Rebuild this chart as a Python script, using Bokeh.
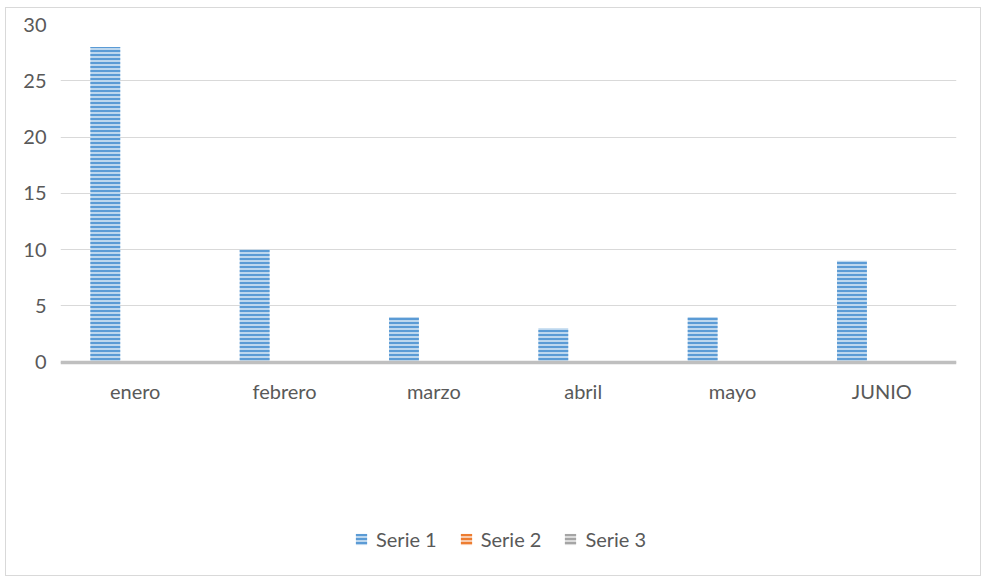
from bokeh.plotting import figure
from bokeh.models import ColumnDataSource, Range1d, Legend, LegendItem
from bokeh.transform import dodge
from bokeh.embed import file_html
from bokeh.resources import INLINE

months = ["enero", "febrero", "marzo", "abril", "mayo", "JUNIO"]
serie1 = [28, 10, 4, 3, 4, 9]
serie2 = [0, 0, 0, 0, 0, 0]
serie3 = [0, 0, 0, 0, 0, 0]
series_names = ["Serie 1", "Serie 2", "Serie 3"]
y_ticks = [0, 5, 10, 15, 20, 25, 30]

source = ColumnDataSource(dict(month=months, s1=serie1, s2=serie2, s3=serie3))

FONT = "Lato"
TXT = "#595959"

# layout (pixels): frame top 16px below figure top, 0..30 spans 337px,
# frame continues down to leave room for labels and legend inside it
FIG_W, FIG_H = 976, 569
TOP, BOTTOM = 16, 6
frame_h = FIG_H - TOP - BOTTOM
px_per_unit = 337.5 / 30.0
y_end = 30
y_start = y_end - frame_h / px_per_unit

p = figure(x_range=months, y_range=Range1d(y_start, y_end), width=FIG_W, height=FIG_H,
           output_backend="svg", toolbar_location=None,
           min_border_left=54, min_border_right=26, min_border_top=TOP, min_border_bottom=BOTTOM)
p.styles = {"border": "1px solid #d9d9d9", "margin-left": "5px", "margin-top": "7px"}

styles = [("s1", "#bdd7ee", "#5b9bd5", -0.2),
          ("s2", "#f8cbad", "#ed7d31", 0.0),
          ("s3", "#dbdbdb", "#a5a5a5", 0.2)]
renderers = []
for col, fill, hatch, off in styles:
    r = p.vbar(x=dodge("month", off, range=p.x_range), top=col, bottom=0, width=0.2, source=source,
               fill_color=fill, line_color=None,
               hatch_pattern="horizontal_line", hatch_color=hatch, hatch_scale=4, hatch_weight=2)
    renderers.append(r)

p.outline_line_color = None
p.xgrid.grid_line_color = None
p.ygrid.grid_line_color = "#d9d9d9"
p.ygrid.grid_line_width = 1
p.yaxis.ticker = y_ticks
p.yaxis.axis_line_color = None
p.yaxis.major_tick_line_color = None
p.yaxis.minor_tick_line_color = None
p.yaxis.major_label_standoff = 8
p.xaxis.fixed_location = 0
p.xaxis.axis_line_color = "#bfbfbf"
p.xaxis.axis_line_width = 3.5
p.xaxis.major_tick_line_color = None
p.xaxis.minor_tick_line_color = None
p.xaxis.major_label_standoff = 11
for ax in (p.xaxis, p.yaxis):
    ax.major_label_text_font = FONT
    ax.major_label_text_font_size = "20px"
    ax.major_label_text_color = TXT

legend = Legend(items=[LegendItem(label=n, renderers=[r]) for n, r in zip(series_names, renderers)],
                orientation="horizontal", location=(294, 20),
                label_text_font=FONT, label_text_font_size="20px", label_text_color=TXT,
                glyph_width=14, glyph_height=14, spacing=22, label_standoff=8,
                border_line_color=None, background_fill_alpha=0)
p.add_layout(legend, "center")

open("out.html", "w").write(file_html(p, INLINE))
